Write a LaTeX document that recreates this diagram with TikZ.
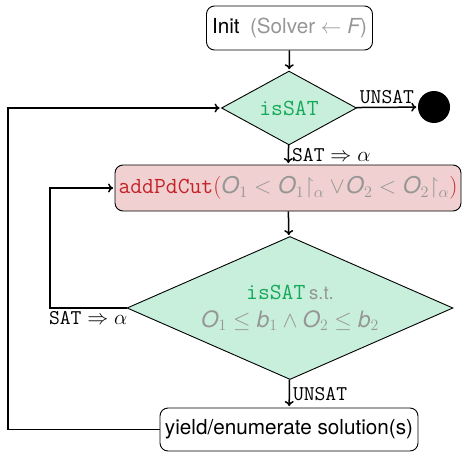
\RequirePackage{fix-cm}
\documentclass[tikz,border=0pt]{standalone}
\usepackage{amssymb}
\usepackage{fontspec}
\setmainfont{TeX Gyre Heros}
\usetikzlibrary{shapes.geometric,arrows.meta}
\definecolor{dfill}{RGB}{200,238,220}
\definecolor{satgreen}{RGB}{22,170,88}
\definecolor{cutfill}{RGB}{240,208,208}
\definecolor{cutred}{RGB}{195,35,40}
\definecolor{txtgray}{RGB}{150,150,150}
\newcommand\sO{\mbox{\itshape O}}
\newcommand\sB{\mbox{\itshape b}}
\newcommand\sF{\mbox{\itshape F}}
\newcommand\rst[1]{{\upharpoonright_{#1}}}
\tikzset{
  box/.style={draw, rounded corners=8pt, line width=0.9pt, inner sep=0pt},
  dia/.style={draw, diamond, fill=dfill, line width=0.9pt, inner sep=0pt},
  conn/.style={line width=1.5pt, shorten >=1.5pt, -{To[length=5pt,width=9pt]}},
  lbl/.style={font=\fontsize{21}{24}\selectfont, inner sep=3pt}
}
\begin{document}
\begin{tikzpicture}[x=1pt,y=-1pt]
\useasboundingbox (0,0) rectangle (463,452);
\node[box, minimum width=166pt, minimum height=44pt, font=\fontsize{20.7}{24}\selectfont] (init) at (289.5,28)
  {Init\enspace{\color{txtgray}(Solver $\leftarrow\sF$)}};
\node[dia, minimum width=135pt, minimum height=58pt, font=\fontsize{23}{26}\ttfamily] (sat) at (289,108)
  {\color{satgreen}isSAT};
\node[circle, fill=black, minimum size=32pt, inner sep=0pt] (sink) at (434,107) {};
\node[box, fill=cutfill, minimum width=346pt, minimum height=46pt, font=\fontsize{23}{26}\selectfont] (cut) at (288,188)
  {\color{cutred}\texttt{addPdCut}$($\color{txtgray}$\sO_1<\sO_1\rst{\alpha}\vee\!\sO_2<\sO_2\rst{\alpha}$\color{cutred}$)$};
\node[dia, aspect=2.28, minimum width=326pt, minimum height=143pt, align=center, font=\fontsize{22.5}{26}\selectfont] (sat2) at (290,308)
  {{\fontsize{23}{26}\ttfamily\color{satgreen}isSAT}\,{\color{txtgray}\fontsize{18.5}{20}\selectfont s.t.}\\[2pt]
   {\color{txtgray}$\sO_1\le\sB_1\wedge\sO_2\le\sB_2$}};
\node[box, minimum width=258pt, minimum height=43pt, font=\fontsize{20.7}{24}\selectfont] (yield) at (289,429.5)
  {yield/enumerate solution(s)};
\coordinate (lc) at (50,0);
\coordinate (oc) at (8,0);
\draw[conn] (init) -- (sat);
\draw[conn] (sat) -- node[lbl, above, font=\fontsize{21}{24}\ttfamily] {UNSAT} (sink);
\draw[conn] (sat) -- node[lbl, right] {$\texttt{SAT}\Rightarrow\alpha$} (cut);
\draw[conn] (cut) -- (sat2);
\draw[conn] (sat2) -- node[lbl, right, font=\fontsize{21}{24}\ttfamily] {UNSAT} (yield);
\draw[conn] (sat2.west) -- node[lbl, below] {$\texttt{SAT}\Rightarrow\alpha$} (sat2.west -| lc) |- (cut.west);
\draw[conn] (yield.west) -- (yield.west -| oc) |- (sat.west);
\end{tikzpicture}
\end{document}
